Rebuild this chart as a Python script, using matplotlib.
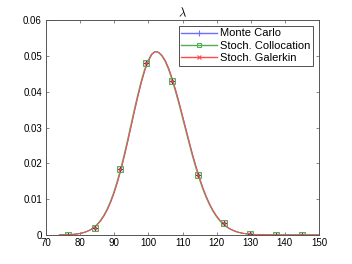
import matplotlib.pyplot as plt
from matplotlib.lines import Line2D

# density curve
x_curve = [74, 75, 76, 77, 78, 79, 80, 81, 82, 83, 84, 85, 86, 87, 88, 89,
           90, 91, 92, 93, 94, 95, 96, 97, 98, 99, 100, 101, 102, 103, 104,
           105, 106, 107, 108, 109, 110, 111, 112, 113, 114, 115, 116, 117,
           118, 119, 120, 121, 122, 123, 124, 125, 126, 127, 128, 129, 130,
           131, 132, 133, 134, 136, 138, 140, 142, 144, 146, 148, 150]
y_curve = [0.00002, 0.00004, 0.00007, 0.00011, 0.00017, 0.00027, 0.00042,
           0.00064, 0.00096, 0.00141, 0.00203, 0.00285, 0.00395, 0.00536,
           0.00713, 0.0093, 0.0119, 0.01495, 0.0184, 0.0222, 0.0263, 0.0306,
           0.0349, 0.0390, 0.0428, 0.0461, 0.0486, 0.0504, 0.0512, 0.0510,
           0.0501, 0.0486, 0.0464, 0.0436, 0.0404, 0.0370, 0.0333, 0.0296,
           0.0259, 0.0223, 0.0190, 0.0159, 0.0131, 0.01068, 0.00856, 0.00676,
           0.00527, 0.00405, 0.00306, 0.00228, 0.00168, 0.00122, 0.00087,
           0.00061, 0.00043, 0.00029, 0.00020, 0.00013, 0.00009, 0.00006,
           0.00004, 0.00002, 0.00001, 0.0, 0.0, 0.0, 0.0, 0.0, 0.0]

# marker points
x_marks = [76.5, 84.2, 91.8, 99.4, 107.0, 114.6, 122.2, 129.8, 137.4, 145.0]
mc_marks = [0.0, 0.0020, 0.0183, 0.0480, 0.0430, 0.0168, 0.0032, 0.0003, 0.0, 0.0]
sc_marks = [0.0, 0.0020, 0.0183, 0.0480, 0.0430, 0.0168, 0.0032, 0.0003, 0.0, 0.0]
sg_marks = [0.0, 0.0020, 0.0183, 0.0480, 0.0430, 0.0168, 0.0032, 0.0003, 0.0, 0.0]

labels = ['Monte Carlo', 'Stoch. Collocation', 'Stoch. Galerkin']

plt.rcParams['font.family'] = ['Liberation Sans', 'DejaVu Sans']
plt.rcParams['mathtext.fontset'] = 'cm'

fig = plt.figure(figsize=(3.52, 2.64), dpi=100)
ax = fig.add_axes([0.131, 0.110, 0.775, 0.814])

blue = '#6f6fff'
green = '#4fb04f'
red = '#ff4a4a'

# lines
ax.plot(x_curve, y_curve, color=blue, lw=0.7)
ax.plot([x - 0.2 for x in x_curve], y_curve, color=green, lw=0.7)
ax.plot(x_curve, y_curve, color=red, lw=0.7)

# markers
ax.plot(x_marks, mc_marks, ls='none', marker='+', color='#3a3a8a', ms=5, mew=0.7)
ax.plot(x_marks, sc_marks, ls='none', marker='s', mfc='none', mec=green, ms=4, mew=0.7)
ax.plot(x_marks, sg_marks, ls='none', marker='x', color=red, ms=3.5, mew=0.7)

ax.set_xlim(70, 150)
ax.set_ylim(0, 0.06)
ax.set_xticks(range(70, 151, 10))
ax.set_yticks([0, 0.01, 0.02, 0.03, 0.04, 0.05, 0.06])
ax.set_yticklabels(['0', '0.01', '0.02', '0.03', '0.04', '0.05', '0.06'])
ax.tick_params(direction='in', top=True, right=True, labelsize=7, length=2.5,
               width=0.5, colors='#555555', labelcolor='black', pad=2)
ax.tick_params(axis='y', pad=3)
for s in ax.spines.values():
    s.set_color('#555555')
    s.set_linewidth(0.7)

ax.set_title(r'$\lambda$', fontsize=9, pad=2)

handles = [
    Line2D([], [], color=blue, lw=1.0, marker='+', ms=5, mew=0.8),
    Line2D([], [], color=green, lw=1.0, marker='s', mfc='none', ms=3.5, mew=0.8),
    Line2D([], [], color=red, lw=1.0, marker='x', ms=3.5, mew=0.8),
]
leg = ax.legend(handles, labels, loc='upper right', fontsize=8, fancybox=False,
                framealpha=1, edgecolor='#333333', handlelength=3.2,
                borderaxespad=0.5, labelspacing=0.2, borderpad=0.25,
                handletextpad=0.3)
leg.get_frame().set_linewidth(0.6)

fig.savefig('out.png', dpi=100)
